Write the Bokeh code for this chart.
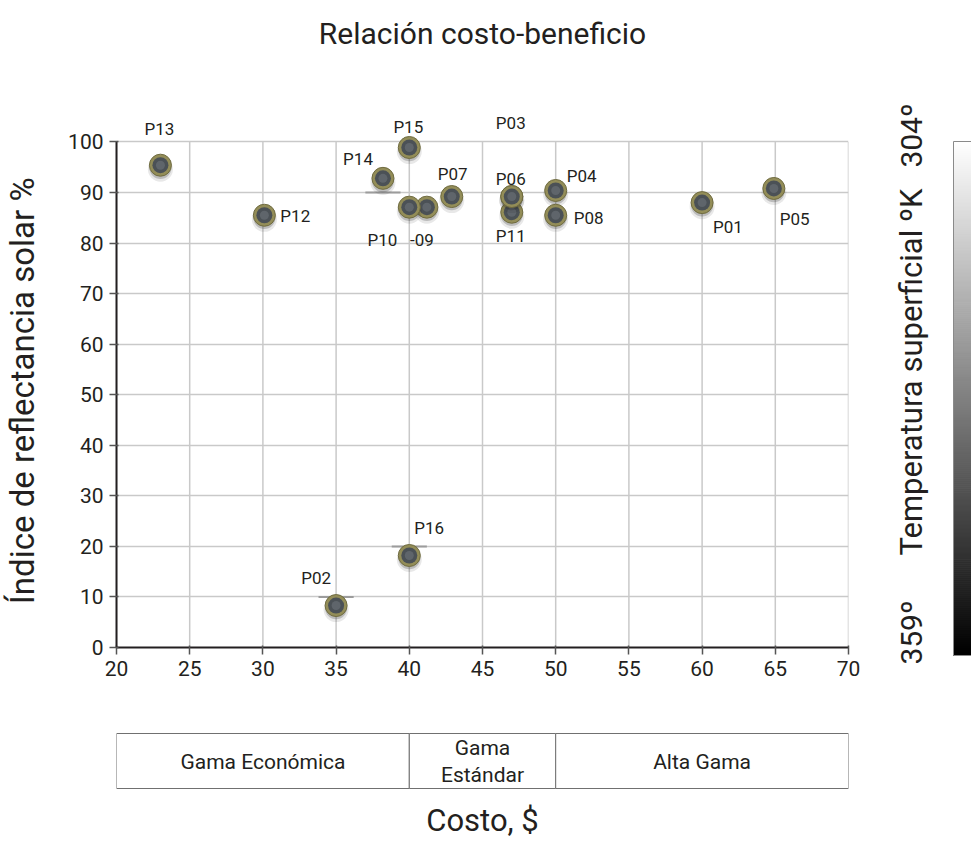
import numpy as np
from bokeh.plotting import figure
from bokeh.models import ColumnDataSource, Range1d, FixedTicker, LabelSet
from bokeh.layouts import row, column
from bokeh.transform import dodge
from bokeh.core.properties import value
from bokeh.palettes import Greys256
from bokeh.embed import file_html
from bokeh.resources import INLINE

# ---- data: cost ($) vs solar reflectance index (%) per product sample ----
# listed in drawing order (later entries are painted on top)
names = ["P03", "P01", "P02", "P04", "P05", "P07", "P08", "P09", "P10",
         "P11", "P06", "P12", "P13", "P14", "P15", "P16"]
point_text = ["P03", "P01", "P02", "P04", "P05", "P07", "P08", "-09", "P10",
              "P11", "P06", "P12", "P13", "P14", "P15", "P16"]
cost = [47, 60, 35, 50, 64.9, 42.9, 50, 41.2, 40, 47, 47, 30.1, 23, 38.2, 40, 40]
sri = [89.2, 88.0, 8.3, 90.4, 90.8, 89.2, 85.5, 87.1, 87.1, 86.1, 89.2, 85.5,
       95.4, 92.8, 98.9, 18.2]

# short reference levels marked next to some samples
ref_names = ["P14", "P16", "P02"]
ref_levels = [90, 20, 10]

# price segments shown under the cost axis
segment_labels = ["Gama Económica", "Gama\nEstándar", "Alta Gama"]
segment_bounds = [20, 40, 50, 70]

# surface temperature scale (K)
temp_low, temp_high = 304, 359
temp_labels = ["304º", "359º"]

x_ticks = [20, 25, 30, 35, 40, 45, 50, 55, 60, 65, 70]
y_ticks = [0, 10, 20, 30, 40, 50, 60, 70, 80, 90, 100]

# ---- label placement (pixel offsets from each marker, alignment) ----
label_layout = {
    "P01": (11, 24, "left"), "P02": (-5, -28, "right"), "P03": (-1, -74, "center"),
    "P04": (11, -14, "left"), "P05": (6, 31, "left"), "P06": (-1, -18, "center"),
    "P07": (1, -23, "center"), "P08": (18, 3, "left"), "P09": (-5, 33, "center"),
    "P10": (-12, 33, "right"), "P11": (-1, 24, "center"), "P12": (16, 1, "left"),
    "P13": (-1, -36, "center"), "P14": (-10, -19, "right"), "P15": (-1, -21, "center"),
    "P16": (5, -27, "left"),
}

FONT = "Roboto"
INK = "#231f20"
GRID = "#c9c9c9"

W_TOTAL = 880          # width of the chart column (colour scale sits to its right)
W_LEFT = 50            # strip holding the rotated y-axis title
TOP_H, MAIN_H, BOTTOM_H = 70, 630, 157
Y_HEADROOM = 108       # room above the 100 line for point labels

src = ColumnDataSource(dict(
    name=names, label=point_text, x=cost, y=sri,
    dx=[label_layout[n][0] for n in names],
    dy=[-label_layout[n][1] for n in names],
    align=[label_layout[n][2] for n in names],
))


def strip(width, height, x_range, y_range, **kw):
    fig = figure(width=width, height=height, x_range=x_range, y_range=y_range,
                 toolbar_location=None, output_backend="svg",
                 x_axis_location=None, y_axis_location=None, **kw)
    fig.outline_line_color = None
    fig.grid.visible = False
    fig.background_fill_color = "white"
    fig.border_fill_color = "white"
    return fig


# ---- title strip ----
pt = strip(W_TOTAL, TOP_H, Range1d(20, 70), Range1d(TOP_H, 0),
           min_border_left=116, min_border_right=32, min_border_top=0, min_border_bottom=0)
pt.text(x=[45], y=[33], text=["Relación costo-beneficio"], text_align="center",
        text_baseline="middle", text_font=value(FONT), text_font_size="30px",
        text_color=INK)

# ---- y-axis title strip ----
pl = strip(W_LEFT, MAIN_H, Range1d(0, W_LEFT), Range1d(MAIN_H, 0), min_border=0)
pl.text(x=[22], y=[580], text=["Índice de reflectancia solar %"], angle=np.pi / 2,
        text_align="left", text_baseline="middle", text_font=value(FONT),
        text_font_size="33px", text_color=INK)

# ---- main scatter ----
p = figure(width=W_TOTAL - W_LEFT, height=MAIN_H, x_range=pt.x_range,
           y_range=Range1d(0, Y_HEADROOM),
           min_border_left=116 - W_LEFT, min_border_right=32, min_border_top=31,
           min_border_bottom=53, toolbar_location=None, output_backend="svg")
p.outline_line_color = None
p.background_fill_color = "white"
p.border_fill_color = "white"

p.xaxis.ticker = FixedTicker(ticks=x_ticks)
p.yaxis.ticker = FixedTicker(ticks=y_ticks)
p.yaxis.bounds = (y_ticks[0], y_ticks[-1])
for ax in (p.xaxis, p.yaxis):
    ax.axis_line_color = INK
    ax.axis_line_width = 2
    ax.major_tick_line_color = "#555555"
    ax.major_tick_line_width = 1.5
    ax.major_tick_out = 7
    ax.major_tick_in = 2
    ax.minor_tick_line_color = None
    ax.major_label_text_font = FONT
    ax.major_label_text_font_size = "21px"
    ax.major_label_text_color = INK
    ax.major_label_standoff = 6

# grid: horizontal lines span the frame, vertical lines stop at the 100 line
p.xgrid.visible = False
p.ygrid.grid_line_color = GRID
p.ygrid.grid_line_width = 1.5
p.segment(x0=x_ticks, x1=x_ticks, y0=[y_ticks[0]] * len(x_ticks),
          y1=[y_ticks[-1]] * len(x_ticks), line_color=GRID, line_width=1.5)

# reference level ticks
ref_idx = [names.index(n) for n in ref_names]
ref_x = [cost[i] for i in ref_idx]
p.segment(x0=[x - 1.2 for x in ref_x], x1=[x + 1.2 for x in ref_x],
          y0=ref_levels, y1=ref_levels, line_color="#9c9c9c", line_width=2)

# glossy marker: soft shadow, olive rim, dark core, highlight
for i in range(len(names)):
    s = ColumnDataSource(dict(x=[cost[i]], y=[sri[i]]))
    p.scatter(x="x", y=dodge("y", -0.8), source=s, size=25, fill_color="#222222",
              fill_alpha=0.10, line_color=None)
    p.scatter(x="x", y=dodge("y", -0.55), source=s, size=22, fill_color="#222222",
              fill_alpha=0.22, line_color=None)
    p.scatter(x="x", y="y", source=s, size=22, fill_color="#938d58",
              line_color="#6f6b40", line_width=1)
    p.scatter(x="x", y="y", source=s, size=16, fill_color="#4b5156", line_color=None)
    p.scatter(x="x", y="y", source=s, size=9, fill_color="#646a70",
              fill_alpha=0.8, line_color=None)

labels = LabelSet(x="x", y="y", text="label", source=src, x_offset="dx", y_offset="dy",
                  text_align="align", text_baseline="middle", text_font=value(FONT),
                  text_font_size="17px", text_color=INK)
p.add_layout(labels)

# ---- price segment strip and cost title ----
pb = strip(W_TOTAL, BOTTOM_H, pt.x_range, Range1d(BOTTOM_H, 0),
           min_border_left=116, min_border_right=32, min_border_top=0, min_border_bottom=0)
pb.quad(left=segment_bounds[:-1], right=segment_bounds[1:], top=33, bottom=88,
        fill_color="white", line_color="#707070", line_width=1)
centers = [(a + b) / 2 for a, b in zip(segment_bounds[:-1], segment_bounds[1:])]
pb.text(x=centers, y=[61] * len(centers), text=segment_labels, text_align="center",
        text_baseline="middle", text_font=value(FONT), text_font_size="21px",
        text_color=INK, text_line_height=1.1)
pb.text(x=[(segment_bounds[0] + segment_bounds[-1]) / 2], y=[120], text=["Costo, $"],
        text_align="center", text_baseline="middle", text_font=value(FONT),
        text_font_size="31px", text_color=INK)

# ---- temperature colour scale ----
cb = strip(91, 857, Range1d(0, 91), Range1d(857, 0), min_border=0)
bar_top, bar_bottom = 141, 655
temps = np.linspace(temp_low, temp_high, 257)
ys = bar_top + (temps - temp_low) / (temp_high - temp_low) * (bar_bottom - bar_top)
cols = [Greys256[255 - int(round(255 * (t - temp_low) / (temp_high - temp_low)))]
        for t in temps[:-1]]
cb.quad(left=73, right=95, top=ys[:-1], bottom=ys[1:], fill_color=cols,
        line_color=cols, line_width=1)
cb.quad(left=[73], right=[95], top=[bar_top], bottom=[bar_bottom], fill_color=None,
        line_color="#8a8a8a", line_width=1)
cb.text(x=[31, 31], y=[135, 632], text=temp_labels, angle=np.pi / 2,
        text_align="center", text_baseline="middle", text_font=value(FONT),
        text_font_size="30px", text_color=INK)
cb.text(x=[31], y=[555], text=["Temperatura superficial ºK"], angle=np.pi / 2,
        text_align="left", text_baseline="middle", text_font=value(FONT),
        text_font_size="31px", text_color=INK)

layout = row(column(pt, row(pl, p), pb), cb)
open("out.html", "w").write(file_html(layout, INLINE))
